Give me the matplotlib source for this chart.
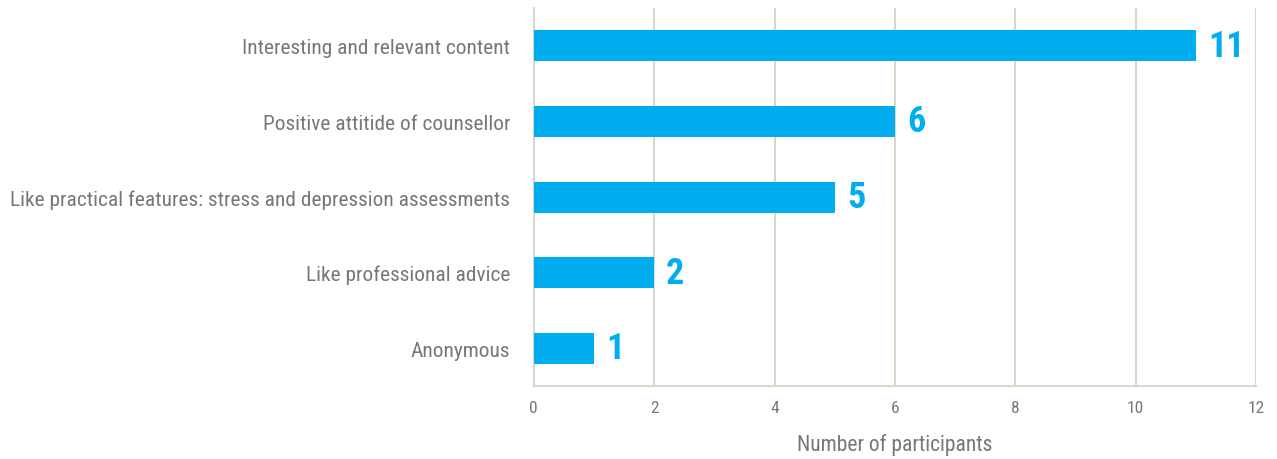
import matplotlib
matplotlib.use("Agg")
import matplotlib.pyplot as plt

categories = [
    "Interesting and relevant content",
    "Positive attitide of counsellor",
    "Like practical features: stress and depression assessments",
    "Like professional advice",
    "Anonymous",
]
counts = [11, 6, 5, 2, 1]
xticks = [0, 2, 4, 6, 8, 10, 12]

BLUE = "#00aeef"
GREY = "#777777"
GRID = "#dcd6cd"

plt.rcParams["font.family"] = ["Roboto Condensed", "DejaVu Sans"]

fig = plt.figure(figsize=(12.77, 4.6), dpi=100)
ax = fig.add_axes([0.418, 0.1587, 0.5656, 0.8217])

pos = list(range(len(categories)))
ax.barh(pos, counts, height=0.41, color=BLUE, zorder=3)
# value labels next to each bar
for p, v in zip(pos, counts):
    ax.text(v + 0.2, p, str(v), va="center", ha="left", color=BLUE,
            fontsize=26, fontweight="bold")

ax.set_ylim(4.5, -0.5)
ax.set_xlim(0, 12)
ax.set_xticks(xticks)
ax.set_yticks(pos)
ax.set_yticklabels(categories)
ax.tick_params(axis="y", length=0, pad=17, labelsize=15.4, labelcolor=GREY)
ax.tick_params(axis="x", length=0, pad=10, labelsize=12.5, labelcolor=GREY)
ax.grid(axis="x", color=GRID, linewidth=1.5, zorder=0)
for s in ["top", "right"]:
    ax.spines[s].set_visible(False)
for s in ["left", "bottom"]:
    ax.spines[s].set_color(GRID)
    ax.spines[s].set_linewidth(1.5)
ax.set_xlabel("Number of participants", fontsize=15.5, color=GREY, labelpad=13)

fig.savefig("out.png", dpi=100)
